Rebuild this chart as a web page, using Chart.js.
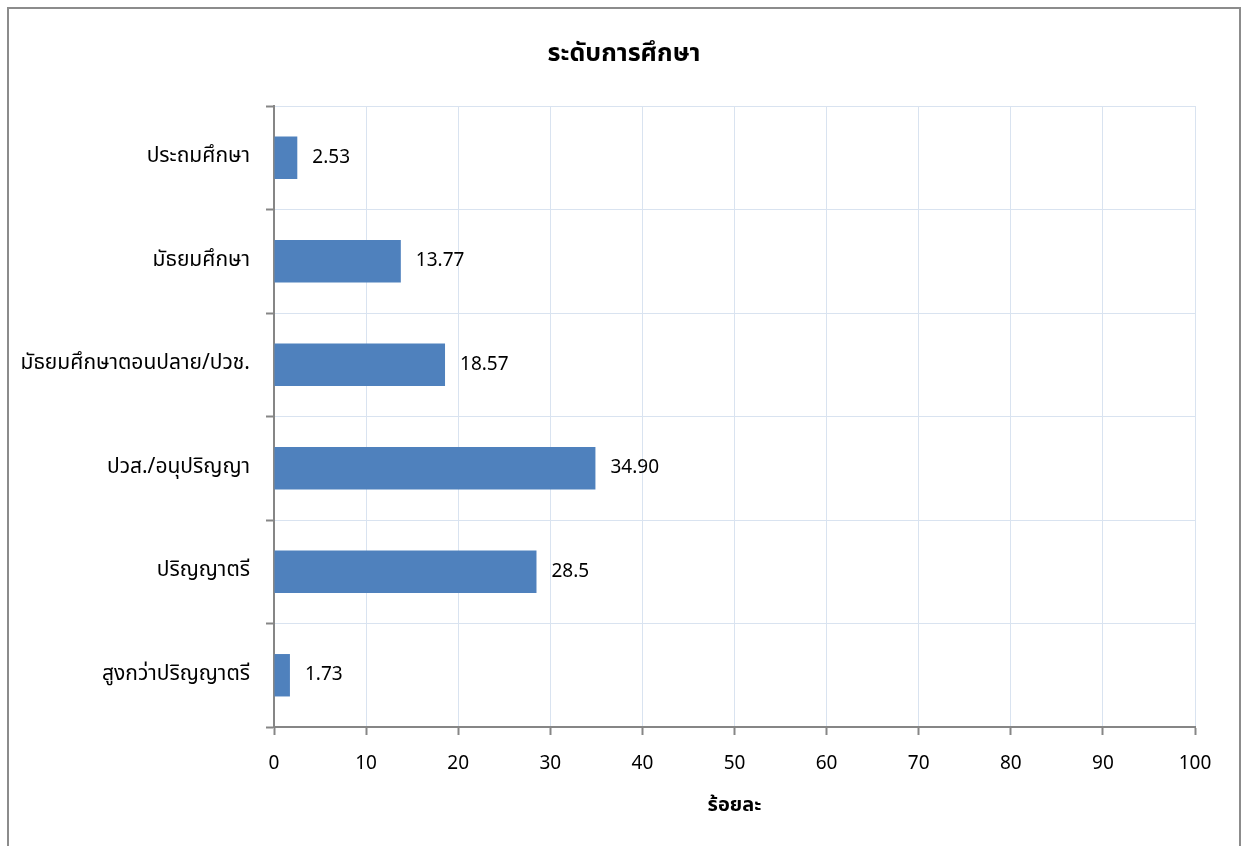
<!DOCTYPE html>
<html>
<head>
<meta charset="utf-8">
<script src="https://cdn.jsdelivr.net/npm/chart.js@4"></script>
<style>
  html, body { margin: 0; padding: 0; background: #fff; }
  #wrap { position: relative; width: 1248px; height: 846px; }
  #frame { position: absolute; left: 7px; top: 7px; width: 1234px; height: 900px; border: 2px solid #8c8c8c; box-sizing: border-box; pointer-events: none; }
  canvas { position: absolute; left: 0; top: 0; }
</style>
</head>
<body>
<div id="wrap">
  <canvas id="eduChart" width="1248" height="846"></canvas>
  <div id="frame"></div>
</div>
<script>
// ข้อมูล
var chartTitle = 'ระดับการศึกษา';
var categories = ['ประถมศึกษา', 'มัธยมศึกษา', 'มัธยมศึกษาตอนปลาย/ปวช.', 'ปวส./อนุปริญญา', 'ปริญญาตรี', 'สูงกว่าปริญญาตรี'];
var percents = [2.53, 13.77, 18.57, 34.90, 28.5, 1.73];
var valueLabels = ['2.53', '13.77', '18.57', '34.90', '28.5', '1.73'];
var xTicks = [0, 10, 20, 30, 40, 50, 60, 70, 80, 90, 100];

var fontFamily = "Tahoma, 'Noto Sans Thai', 'Noto Sans', sans-serif";
var gridBlue = '#d9e3f0';
var axisGray = '#868686';

// ชื่อกราฟ (จัดกึ่งกลางกรอบ)
var titlePlugin = {
    id: 'titlePlugin',
    afterDraw: function(chart) {
        var c = chart.ctx;
        c.save();
        c.font = 'bold 25px ' + fontFamily;
        c.fillStyle = '#000';
        c.textAlign = 'center';
        c.textBaseline = 'middle';
        c.fillText(chartTitle, 624, 56);
        c.restore();
    }
};

// ตัวเลขท้ายแท่ง
var barLabels = {
    id: 'barLabels',
    afterDatasetsDraw: function(chart) {
        var c = chart.ctx;
        var meta = chart.getDatasetMeta(0);
        c.save();
        c.font = '19px ' + fontFamily;
        c.fillStyle = '#000';
        c.textBaseline = 'middle';
        c.textAlign = 'left';
        meta.data.forEach(function(bar, i) {
            c.fillText(valueLabels[i], bar.x + 15, bar.y + 1);
        });
        c.restore();
    }
};

var ctx = document.getElementById('eduChart').getContext('2d');
var eduChart = new Chart(ctx, {
    type: 'bar',
    data: {
        labels: categories,
        datasets: [{
            data: percents,
            backgroundColor: '#4f81bd',
            borderWidth: 0,
            categoryPercentage: 1,
            barPercentage: 0.41
        }]
    },
    options: {
        indexAxis: 'y',
        responsive: false,
        animation: false,
        layout: { padding: { left: 0, right: 53, top: 106, bottom: 0 } },
        plugins: {
            legend: { display: false },
            tooltip: { enabled: false },
            title: { display: false }
        },
        scales: {
            x: {
                min: 0,
                max: 100,
                afterBuildTicks: function(scale) {
                    scale.ticks = xTicks.map(function(v) { return { value: v }; });
                },
                afterFit: function(scale) { scale.height = 119; },
                grid: { color: gridBlue, lineWidth: 1, tickColor: axisGray, tickLength: 8, tickWidth: 2 },
                border: { color: axisGray, width: 2 },
                ticks: { color: '#000', padding: 19, font: { family: fontFamily, size: 19 } },
                title: {
                    display: true,
                    text: 'ร้อยละ',
                    color: '#000',
                    font: { family: fontFamily, size: 20, weight: 'bold' },
                    padding: { top: 0, bottom: 27 }
                }
            },
            y: {
                afterFit: function(scale) { scale.width = 274; },
                grid: { color: gridBlue, lineWidth: 1, tickColor: axisGray, tickLength: 8, tickWidth: 2, offset: true },
                border: { color: axisGray, width: 2 },
                ticks: { color: '#000', padding: 16, font: { family: fontFamily, size: 21 } }
            }
        }
    },
    plugins: [barLabels, titlePlugin]
});
</script>
</body>
</html>
